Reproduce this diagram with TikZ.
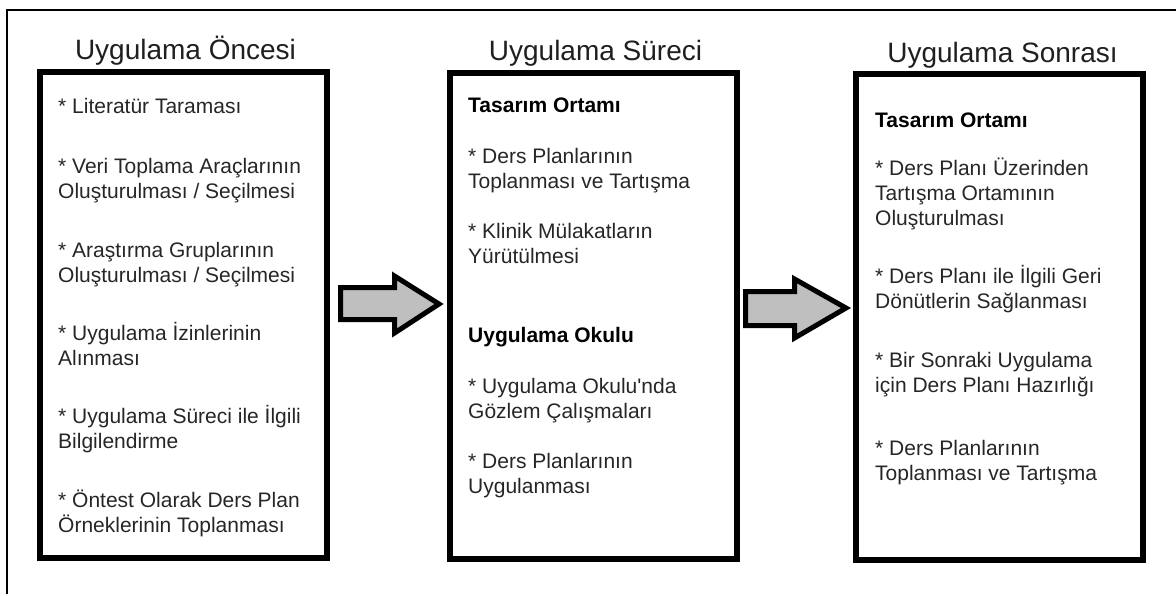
\documentclass[tikz,border=0pt]{standalone}
\usepackage{fontspec}
\setmainfont{Liberation Sans}
\newcommand{\mlines}[1]{\begin{tabular}[t]{@{}l@{}}#1\end{tabular}}
\begin{document}
\begin{tikzpicture}[x=1pt,y=-1pt,
  box/.style={draw=black,line width=6pt,minimum width=287pt,minimum height=486pt,inner sep=0pt},
  title/.style={anchor=base,inner sep=0pt,font=\fontsize{28}{32}\selectfont,text=black!88},
  item/.style={anchor=base west,inner sep=0pt,font=\fontsize{21}{25}\selectfont,text=black!85},
  head/.style={item,font=\fontsize{21}{25}\selectfont\bfseries,text=black},
  fatarrow/.style={draw=black,line width=5pt,fill=black!25,line join=miter}]
\useasboundingbox (0,0) rectangle (1176,595);
\draw[line width=1.5pt] (7,594) -- (7,10) -- (1176,10);

\node[box] (b1) at (183.5,315) {};
\node[box] (b2) at (593.5,316) {};
\node[box] (b3) at (999.5,316.5) {};

\node[title] (t1) at (185.5,59) {Uygulama Öncesi};
\node[title] (t2) at (595.5,60) {Uygulama Süreci};
\node[title] (t3) at (1002.5,62) {Uygulama Sonrası};

% box 1
\node[item] (a1) at (58,113) {* Literatür Taraması};
\node[item] (a2) at (58,173) {\mlines{* Veri Toplama Araçlarının\\Oluşturulması / Seçilmesi}};
\node[item] (a3) at (58,257) {\mlines{* Araştırma Gruplarının\\Oluşturulması / Seçilmesi}};
\node[item] (a4) at (58,340) {\mlines{* Uygulama İzinlerinin\\Alınması}};
\node[item] (a5) at (58,423) {\mlines{* Uygulama Süreci ile İlgili\\Bilgilendirme}};
\node[item] (a6) at (58,507) {\mlines{* Öntest Olarak Ders Plan\\Örneklerinin Toplanması}};

% box 2
\node[head] (h21) at (468,112) {Tasarım Ortamı};
\node[item] (c1) at (468,163) {\mlines{* Ders Planlarının\\Toplanması ve Tartışma}};
\node[item] (c2) at (468,238) {\mlines{* Klinik Mülakatların\\Yürütülmesi}};
\node[head] (h22) at (468,342) {Uygulama Okulu};
\node[item] (c3) at (468,393) {\mlines{* Uygulama Okulu\textquotesingle nda\\Gözlem Çalışmaları}};
\node[item] (c4) at (468,468) {\mlines{* Ders Planlarının\\Uygulanması}};

% box 3
\node[head] (h31) at (875,127) {Tasarım Ortamı};
\node[item] (d1) at (875,175) {\mlines{* Ders Planı Üzerinden\\Tartışma Ortamının\\Oluşturulması}};
\node[item] (d2) at (875,283) {\mlines{* Ders Planı ile İlgili Geri\\Dönütlerin Sağlanması}};
\node[item] (d3) at (875,367) {\mlines{* Bir Sonraki Uygulama\\için Ders Planı Hazırlığı}};
\node[item] (d4) at (875,455) {\mlines{* Ders Planlarının\\Toplanması ve Tartışma}};

% arrows
\draw[fatarrow] (340.5,287.5) -- (394.5,287.5) -- (394.5,276) -- (439,304)
  -- (394.5,333) -- (394.5,319.5) -- (340.5,319.5) -- cycle;
\draw[fatarrow] (745.5,291.5) -- (794.5,291.5) -- (794.5,279) -- (846,308)
  -- (794.5,338) -- (794.5,325.5) -- (745.5,325.5) -- cycle;
\end{tikzpicture}
\end{document}
